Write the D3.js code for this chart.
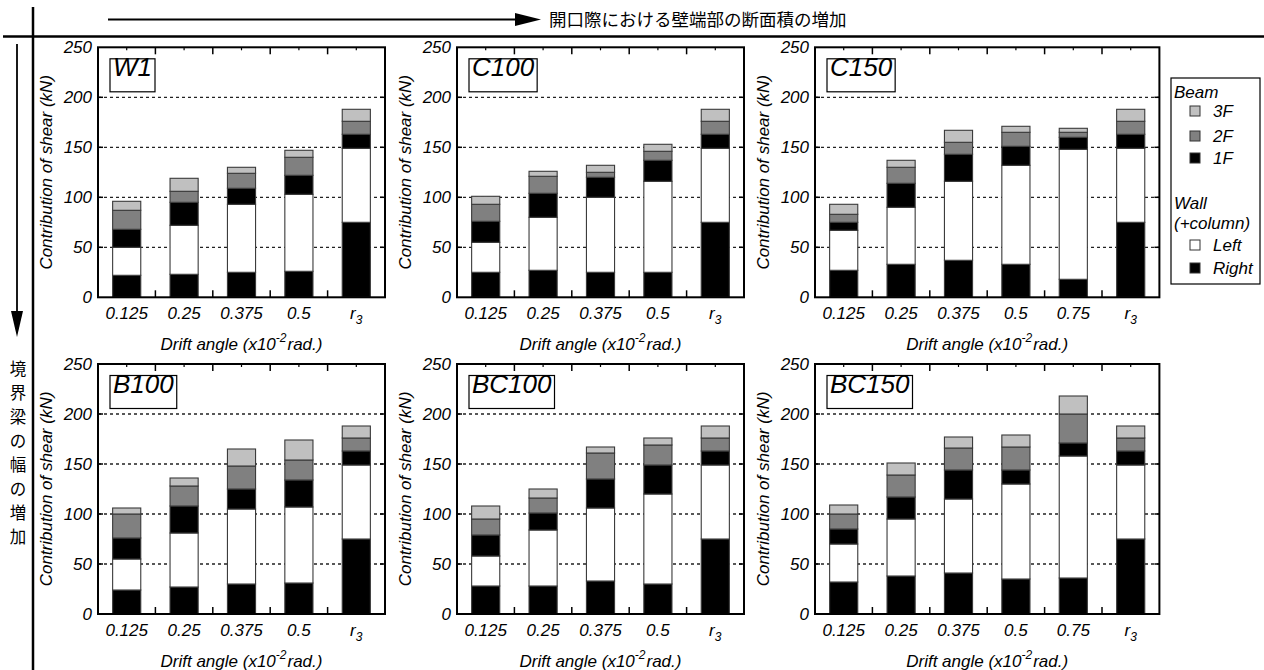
<!DOCTYPE html>
<html>
<head>
<meta charset="utf-8">
<script src="https://cdn.jsdelivr.net/npm/d3@7"></script>
<style>
  html, body { margin: 0; padding: 0; background: #fff; }
  svg { display: block; font-family: "Liberation Sans", Arial, sans-serif; }
  .it { font-style: italic; }
</style>
</head>
<body>
<svg id="chart" width="1264" height="670"></svg>
<script>
// ----------------------------
// Data
// ----------------------------
const panelNames = ['W1', 'C100', 'C150', 'B100', 'BC100', 'BC150'];
const drifts5 = ['0.125', '0.25', '0.375', '0.5', 'r3'];
const drifts6 = ['0.125', '0.25', '0.375', '0.5', '0.75', 'r3'];
const panelDrifts = [drifts5, drifts5, drifts6, drifts5, drifts5, drifts6];
const yTicks = [0, 50, 100, 150, 200, 250];

// stacked from bottom: wall right, wall left, beam 1F, beam 2F, beam 3F (kN)
const wallRight = [
  [22, 23, 25, 26, 75],
  [25, 27, 25, 25, 75],
  [27, 33, 37, 33, 18, 75],
  [24, 27, 30, 31, 75],
  [28, 28, 33, 30, 75],
  [32, 38, 41, 35, 36, 75]
];
const wallLeft = [
  [28, 49, 68, 77, 74],
  [30, 53, 75, 91, 74],
  [40, 57, 79, 99, 130, 74],
  [31, 54, 75, 76, 74],
  [30, 56, 73, 90, 74],
  [38, 57, 74, 95, 122, 74]
];
const beam1F = [
  [18, 23, 16, 19, 14],
  [21, 24, 20, 21, 14],
  [8, 24, 27, 19, 12, 14],
  [21, 27, 20, 27, 14],
  [21, 17, 29, 29, 14],
  [15, 22, 29, 14, 13, 14]
];
const beam2F = [
  [19, 11, 15, 18, 13],
  [17, 17, 5, 9, 13],
  [8, 16, 12, 14, 5, 13],
  [24, 20, 23, 20, 13],
  [16, 15, 26, 20, 13],
  [15, 22, 22, 23, 29, 13]
];
const beam3F = [
  [9, 13, 6, 7, 12],
  [8, 5, 7, 7, 12],
  [10, 7, 12, 6, 4, 12],
  [6, 8, 17, 20, 12],
  [13, 9, 6, 7, 12],
  [9, 12, 11, 12, 18, 12]
];

const seriesKeys = ['right', 'left', 'f1', 'f2', 'f3'];
const seriesFill = { right: '#000', left: '#fff', f1: '#000', f2: '#808080', f3: '#c0c0c0' };

// ----------------------------
// Layout
// ----------------------------
const svg = d3.select('#chart');
const colLeft = [98, 457, 815];
const rowTop = [47.3, 364];
const step = 57.4;
const plotH = 250;

// frame lines + arrows
svg.append('line').attr('x1', 3).attr('x2', 1264).attr('y1', 36.5).attr('y2', 36.5)
  .attr('stroke', '#000').attr('stroke-width', 2.5);
svg.append('line').attr('x1', 33).attr('x2', 33).attr('y1', 7).attr('y2', 670)
  .attr('stroke', '#000').attr('stroke-width', 2.5);

svg.append('line').attr('x1', 108).attr('x2', 518).attr('y1', 19.5).attr('y2', 19.5)
  .attr('stroke', '#000').attr('stroke-width', 1.8);
svg.append('path').attr('d', 'M515,13 L541,19.5 L515,26 Z').attr('fill', '#000');
svg.append('text').attr('x', 549).attr('y', 25.5)
  .attr('font-family', '"Noto Sans CJK JP", sans-serif').attr('font-size', 17.5)
  .text('開口際における壁端部の断面積の増加');

svg.append('line').attr('x1', 17).attr('x2', 17).attr('y1', 44).attr('y2', 315)
  .attr('stroke', '#000').attr('stroke-width', 1.8);
svg.append('path').attr('d', 'M11,311 L17,337 L23,311 Z').attr('fill', '#000');
Array.from('境界梁の幅の増加').forEach((ch, i) => {
  svg.append('text').attr('x', 18).attr('y', 368 + i * 24)
    .attr('text-anchor', 'middle').attr('dominant-baseline', 'central')
    .attr('font-family', '"Noto Sans CJK JP", sans-serif').attr('font-size', 16.5)
    .text(ch);
});

// ----------------------------
// Panels
// ----------------------------
panelNames.forEach((name, p) => {
  const cats = panelDrifts[p];
  const x0 = colLeft[p % 3];
  const y0 = rowTop[Math.floor(p / 3)];
  const w = cats.length * step;

  const x = d3.scaleBand().domain(cats).range([x0, x0 + w])
    .paddingInner(0.51).paddingOuter(0.255);
  const y = d3.scaleLinear().domain([0, 250]).range([y0 + plotH, y0]);

  const rows = cats.map((c, i) => ({
    cat: c,
    right: wallRight[p][i],
    left: wallLeft[p][i],
    f1: beam1F[p][i],
    f2: beam2F[p][i],
    f3: beam3F[p][i]
  }));
  const stacked = d3.stack().keys(seriesKeys)(rows);

  const g = svg.append('g');

  // dotted grid
  g.selectAll('.grid').data(yTicks.filter(t => t > 0 && t < 250)).enter()
    .append('line')
    .attr('x1', x0).attr('x2', x0 + w)
    .attr('y1', d => y(d)).attr('y2', d => y(d))
    .attr('stroke', '#222').attr('stroke-width', 1.3)
    .attr('stroke-dasharray', '3,3');

  // bars
  stacked.forEach(s => {
    g.selectAll(null).data(s).enter()
      .append('rect')
      .attr('x', d => x(d.data.cat))
      .attr('width', x.bandwidth())
      .attr('y', d => y(d[1]))
      .attr('height', d => y(d[0]) - y(d[1]))
      .attr('fill', seriesFill[s.key])
      .attr('stroke', '#3a3a3a')
      .attr('stroke-width', 1.1);
  });

  // frame
  g.append('rect').attr('x', x0).attr('y', y0).attr('width', w).attr('height', plotH)
    .attr('fill', 'none').attr('stroke', '#000').attr('stroke-width', 2);

  // x ticks: boundaries (long) and centres (short), top and bottom
  const bounds = cats.slice(1).map(c => x(c) - (step - x.bandwidth()) / 2);
  bounds.forEach(bx => {
    g.append('line').attr('x1', bx).attr('x2', bx).attr('y1', y0).attr('y2', y0 + 7)
      .attr('stroke', '#000').attr('stroke-width', 1.5);
    g.append('line').attr('x1', bx).attr('x2', bx).attr('y1', y0 + plotH).attr('y2', y0 + plotH - 7)
      .attr('stroke', '#000').attr('stroke-width', 1.5);
  });
  cats.forEach(c => {
    const cx = x(c) + x.bandwidth() / 2;
    g.append('line').attr('x1', cx).attr('x2', cx).attr('y1', y0).attr('y2', y0 + 3)
      .attr('stroke', '#000').attr('stroke-width', 1.2);
  });

  // y ticks (inward, both sides)
  yTicks.slice(1, -1).forEach(t => {
    g.append('line').attr('x1', x0).attr('x2', x0 + 5).attr('y1', y(t)).attr('y2', y(t))
      .attr('stroke', '#000').attr('stroke-width', 1.5);
    g.append('line').attr('x1', x0 + w - 5).attr('x2', x0 + w).attr('y1', y(t)).attr('y2', y(t))
      .attr('stroke', '#000').attr('stroke-width', 1.5);
  });

  // y tick labels
  g.selectAll('.ytl').data(yTicks).enter()
    .append('text').attr('class', 'it')
    .attr('x', x0 - 6).attr('y', d => y(d))
    .attr('text-anchor', 'end').attr('dominant-baseline', 'central')
    .attr('font-size', 17).text(d => d);

  // x tick labels
  cats.forEach(c => {
    const t = g.append('text').attr('class', 'it')
      .attr('x', x(c) + x.bandwidth() / 2).attr('y', y0 + plotH + 22)
      .attr('text-anchor', 'middle').attr('font-size', 17);
    if (c === 'r3') {
      t.append('tspan').text('r');
      t.append('tspan').attr('font-size', 12).attr('dy', 5).text('3');
    } else {
      t.text(c);
    }
  });

  // axis titles
  g.append('text').attr('class', 'it')
    .attr('transform', `translate(${x0 - 46},${y0 + plotH / 2}) rotate(-90)`)
    .attr('text-anchor', 'middle').attr('font-size', 17)
    .text('Contribution of shear (kN)');

  const xt = g.append('text').attr('class', 'it')
    .attr('x', x0 + w / 2).attr('y', y0 + plotH + 53)
    .attr('text-anchor', 'middle').attr('font-size', 17);
  xt.append('tspan').text('Drift angle (x10');
  xt.append('tspan').attr('font-size', 12).attr('dy', -8).text('-2');
  xt.append('tspan').attr('dy', 8).attr('dx', 1).text('rad.)');

  // name box
  const lbl = g.append('text').attr('class', 'it')
    .attr('x', x0 + 15).attr('y', y0 + 28.5)
    .attr('font-size', 26).text(name);
  const tw = lbl.node().getComputedTextLength();
  g.insert('rect', 'text:last-child')
    .attr('x', x0 + 12).attr('y', y0 + 11.5)
    .attr('width', tw + 6).attr('height', 33)
    .attr('fill', '#fff').attr('stroke', '#000').attr('stroke-width', 1.2);
  lbl.raise();
});

// ----------------------------
// Legend
// ----------------------------
const legendItems = [
  { label: 'Beam', y: 92 },
  { label: '3F', y: 111, fill: seriesFill.f3 },
  { label: '2F', y: 136, fill: seriesFill.f2 },
  { label: '1F', y: 158, fill: seriesFill.f1 },
  { label: 'Wall', y: 203 },
  { label: '(+column)', y: 223 },
  { label: 'Left', y: 245, fill: seriesFill.left },
  { label: 'Right', y: 268, fill: seriesFill.right }
];
const lg = svg.append('g');
lg.append('rect').attr('x', 1171).attr('y', 78).attr('width', 89).attr('height', 206)
  .attr('fill', '#fff').attr('stroke', '#000').attr('stroke-width', 1.2);
legendItems.forEach(d => {
  if (d.fill) {
    lg.append('rect').attr('x', 1190).attr('y', d.y - 5).attr('width', 10).attr('height', 10)
      .attr('fill', d.fill).attr('stroke', '#333').attr('stroke-width', 1);
    lg.append('text').attr('class', 'it').attr('x', 1213).attr('y', d.y)
      .attr('dominant-baseline', 'central').attr('font-size', 17).text(d.label);
  } else {
    lg.append('text').attr('class', 'it').attr('x', 1174).attr('y', d.y)
      .attr('dominant-baseline', 'central').attr('font-size', 17).text(d.label);
  }
});
</script>
</body>
</html>
